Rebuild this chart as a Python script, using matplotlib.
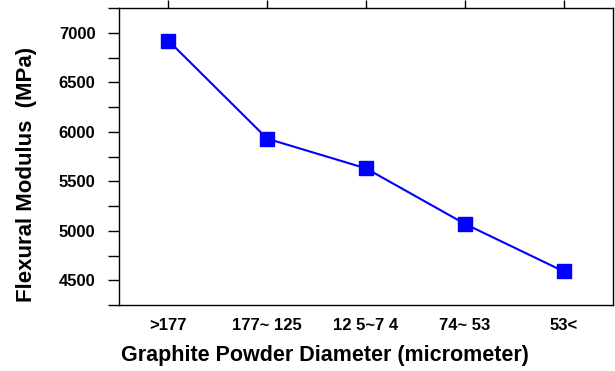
import matplotlib
matplotlib.use("Agg")
import matplotlib.pyplot as plt
from matplotlib.ticker import MultipleLocator

categories = [">177", "177~ 125", "12 5~7 4", "74~ 53", "53<"]
modulus = [6920, 5930, 5630, 5070, 4590]

plt.rcParams['font.family'] = ['Liberation Sans', 'DejaVu Sans']
plt.rcParams['font.weight'] = 'bold'

fig = plt.figure(figsize=(6.15, 3.71), dpi=100)
ax = fig.add_axes([119/615, 1 - 305/371, (613 - 119)/615, (305 - 8)/371])

x = list(range(len(categories)))
ax.plot(x, modulus, color='#0000ff', lw=1.5, marker='s', markersize=10,
        markeredgecolor='#0000ff', markerfacecolor='#0000ff')

ax.set_xlim(-0.5, 4.5)
ax.set_ylim(4250, 7250)
ax.yaxis.set_major_locator(MultipleLocator(500))
ax.yaxis.set_minor_locator(MultipleLocator(250))
ax.set_yticks([4500, 5000, 5500, 6000, 6500, 7000])

for s in ax.spines.values():
    s.set_linewidth(1.0)

# category ticks sit on the top edge, labels stay at the bottom
ax.set_xticks(x)
ax.set_xticklabels(categories, fontsize=12, fontweight='bold')
ax.tick_params(axis='x', bottom=False, top=True, labelbottom=True, direction='out',
               length=6, width=1.0, pad=3)
ax.tick_params(axis='y', which='both', left=True, right=False, direction='out',
               length=8, width=1.0, labelsize=12)
ax.tick_params(axis='y', which='major', pad=9)
for lab in ax.get_yticklabels():
    lab.set_fontweight('bold')

ax.set_xlabel("Graphite Powder Diameter (micrometer)", fontsize=15.5, fontweight='bold')
ax.xaxis.set_label_coords(0.417, -0.135)
ax.set_ylabel("Flexural Modulus  (MPa)", fontsize=16, fontweight='bold')
ax.yaxis.set_label_coords(-0.166, 0.44)

fig.savefig("out.png", dpi=100)
